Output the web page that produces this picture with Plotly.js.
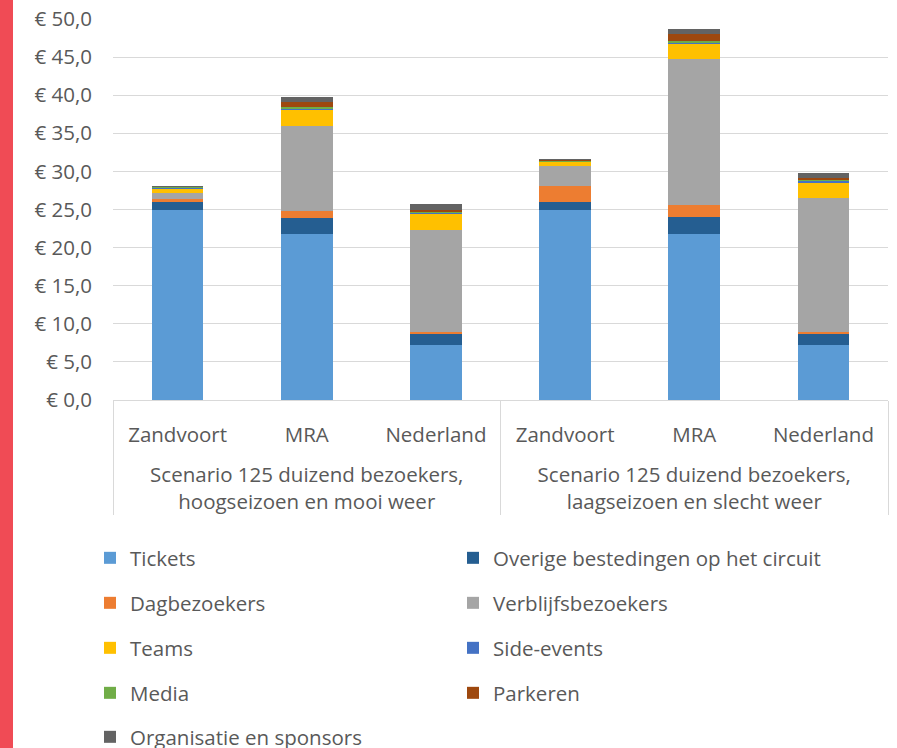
<!DOCTYPE html>
<html>
<head>
<meta charset="utf-8">
<script src="https://cdn.plot.ly/plotly-3.0.1.min.js"></script>
<style>
  html, body { margin: 0; padding: 0; background: #fff; }
  #wrap { position: relative; width: 897px; height: 748px; overflow: hidden; }
  #stripe { position: absolute; left: 0; top: 0; width: 13px; height: 748px; background: #F04B55; z-index: 5; }
  #chart { position: absolute; left: 0; top: 0; width: 897px; height: 748px; }
</style>
</head>
<body>
<div id="wrap"><div id="chart"></div><div id="stripe"></div></div>
<script>
const groups = [
  "Scenario 125 duizend bezoekers,<br>hoogseizoen en mooi weer",
  "Scenario 125 duizend bezoekers,<br>laagseizoen en slecht weer"
];
const regions = ["Zandvoort", "MRA", "Nederland"];

const seriesNames = ["Tickets", "Overige bestedingen op het circuit", "Dagbezoekers", "Verblijfsbezoekers",
  "Teams", "Side-events", "Media", "Parkeren", "Organisatie en sponsors"];
const colors = ["#5B9BD5", "#255E91", "#ED7D31", "#A5A5A5", "#FFC000", "#4472C4", "#70AD47", "#9E480E", "#636363"];

const tickets   = [25.0, 21.8, 7.2, 25.0, 21.8, 7.2];
const overige   = [1.0, 2.1, 1.5, 1.0, 2.2, 1.5];
const dag       = [0.4, 0.9, 0.2, 2.1, 1.6, 0.2];
const verblijf  = [0.8, 11.2, 13.4, 2.6, 19.1, 17.6];
const teams     = [0.5, 2.0, 2.1, 0.5, 2.0, 2.0];
const side      = [0.1, 0.2, 0.15, 0.05, 0.2, 0.2];
const media     = [0.1, 0.2, 0.15, 0.05, 0.2, 0.2];
const parkeren  = [0.1, 0.75, 0.27, 0.2, 0.88, 0.17];
const org       = [0.1, 0.65, 0.75, 0.17, 0.74, 0.75];

const yTicks = [0, 5, 10, 15, 20, 25, 30, 35, 40, 45, 50];
const yTickText = yTicks.map(v => "€ " + v.toFixed(1).replace(".", ","));

const values = [tickets, overige, dag, verblijf, teams, side, media, parkeren, org];

// leading blank line pushes the group labels below the sub-category labels
const xGroup = [], xSub = [];
groups.forEach(g => regions.forEach(r => { xGroup.push("\u00a0<br>" + g); xSub.push(r); }));

const W = 897, H = 748;
const plotTop = 19, plotBottom = 400, plotH = plotBottom - plotTop;
const plotL = 113, plotW = 775;
function py(p) { return (plotBottom - p) / plotH; }
function px(p) { return (p - plotL) / plotW; }

const FONT = "Open Sans, sans-serif";
const legendFont = { family: FONT, size: 20.5, color: "#595959" };

// one legend per entry: two columns, five rows
const legendRowsPx = [558, 603, 648, 693, 737];
const legendColsPx = [90, 453];
const legendIds = seriesNames.map((_, i) => i === 0 ? "legend" : "legend" + (i + 1));

const traces = values.map((v, i) => ({
  type: "bar",
  name: seriesNames[i],
  x: [xGroup, xSub],
  y: v,
  marker: { color: colors[i], line: { width: 0 } },
  legend: legendIds[i],
  hoverinfo: "name+y"
}));

const layout = {
  width: W, height: H,
  margin: { l: plotL, r: W - plotL - plotW, t: plotTop, b: H - plotBottom, pad: 0, autoexpand: false },
  paper_bgcolor: "#fff", plot_bgcolor: "#fff",
  barmode: "stack",
  bargap: 0.6,
  font: { family: FONT, size: 20.5, color: "#595959" },
  xaxis: {
    type: "multicategory",
    showline: true, linecolor: "#D9D9D9", linewidth: 1,
    showgrid: false, ticks: "",
    dividercolor: "#D9D9D9", dividerwidth: 1, showdividers: true,
    ticklabelstandoff: 16,
    automargin: false,
    tickfont: { family: FONT, size: 20.5, color: "#595959" }
  },
  yaxis: {
    range: [0, 50], tickmode: "array", tickvals: yTicks, ticktext: yTickText,
    showgrid: true, gridcolor: "#D9D9D9", gridwidth: 1, zeroline: false,
    showline: false, ticks: "", ticklabelstandoff: 20,
    automargin: false,
    tickfont: { family: FONT, size: 20.5, color: "#595959" }
  },
  showlegend: true
};

legendIds.forEach((id, i) => {
  layout[id] = {
    x: px(legendColsPx[i % 2]), xanchor: "left",
    y: py(legendRowsPx[Math.floor(i / 2)]), yanchor: "middle",
    font: legendFont, bgcolor: "rgba(0,0,0,0)"
  };
});

Plotly.newPlot("chart", traces, layout, { displayModeBar: false, staticPlot: true });
</script>
</body>
</html>
